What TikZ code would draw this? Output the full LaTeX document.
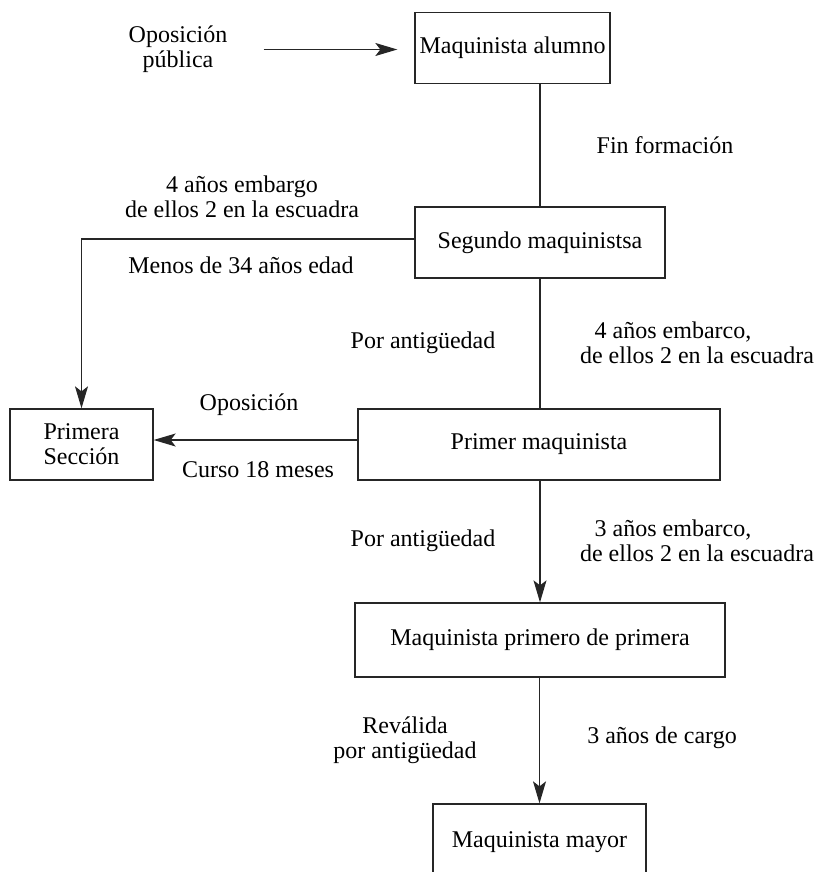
\documentclass[tikz,border=0pt]{standalone}
\usepackage{fontspec}
\setmainfont{Liberation Serif}
\usetikzlibrary{arrows.meta}

\begin{document}
\begin{tikzpicture}[x=1pt, y=-1pt,
  every node/.style={font=\fontsize{24}{25}\selectfont, align=center, inner sep=2pt},
  caja/.style={draw=black!85, line width=1.3pt, minimum height=71pt, inner sep=0pt},
  linea/.style={draw=black!85, line width=1.3pt},
  flecha/.style={linea, -{Stealth[length=22pt, width=13pt, inset=5pt]}}]
  \def\W{821} % page width
  \def\H{872} % page height

  % --- page
  \clip (0,0) rectangle (\W,\H);

  % --- boxes
  \node[caja, minimum width=195pt] (alumno) at (512.5,48) {Maquinista alumno};
  \node[caja, minimum width=250pt] (segundo) at (540,242.5) {Segundo maquinistsa};
  \node[caja, minimum width=143pt] (seccion) at (81.5,444.5) {Primera\\Sección};
  \node[caja, minimum width=362pt] (primer) at (539,444.5) {Primer maquinista};
  \node[caja, minimum width=370pt, minimum height=74pt] (primera) at (540,640) {Maquinista primero de primera};
  \node[caja, minimum width=213pt, minimum height=76pt] (mayor) at (539.5,842) {Maquinista mayor};

  % --- entry
  \node (publica) at (178,49.5) {Oposición\\pública};
  \draw[flecha, shorten <=34pt, shorten >=17pt] (publica.east) -- (publica.east -| alumno.west);

  % --- plain lines
  \draw[linea] (segundo.north) -- (segundo.north |- alumno.south);
  \draw[linea] (segundo.south) -- (segundo.south |- primer.north);

  % --- arrows down the chain
  \foreach \a/\b in {primer/primera, primera/mayor}{
    \draw[flecha] (\b.north |- \a.south) -- (\b.north);
  }

  % --- to primera seccion
  \draw[flecha] ([yshift=3.5pt]segundo.west) -| (seccion.north);
  \draw[flecha] ([yshift=4.5pt]primer.west) -- ([yshift=4.5pt]seccion.east);

  % --- labels
  \node (fin) at (665,145) {Fin formación};
  \node (embargo) at (242,197) {4 años embargo\\de ellos 2 en la escuadra};
  \node (menos) at (241,265) {Menos de 34 años edad};
  \node (antig1) at (423,343) {Por antigüedad};
  \node (embarco1) at (697,343) {4 años embarco,\hspace*{2em}\\de ellos 2 en la escuadra};
  \node (oposicion) at (249,405) {Oposición};
  \node (curso) at (258,470) {Curso 18 meses};
  \node (antig2) at (423,541) {Por antigüedad};
  \node (embarco2) at (697,541) {3 años embarco,\hspace*{2em}\\de ellos 2 en la escuadra};
  \node (revalida) at (405,740) {Reválida\\por antigüedad};
  \node (cargo) at (662,738) {3 años de cargo};
\end{tikzpicture}
\end{document}
